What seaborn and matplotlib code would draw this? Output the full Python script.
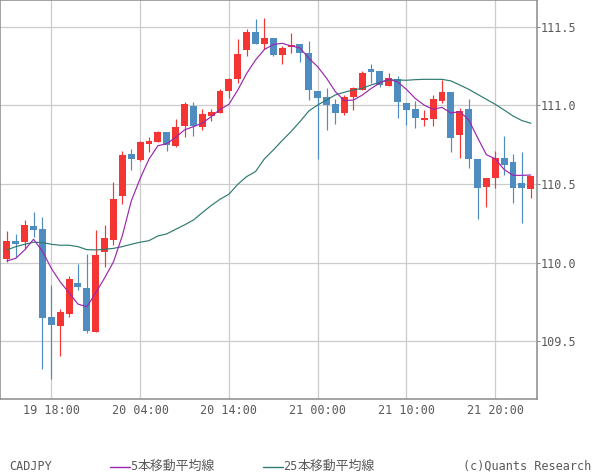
import numpy as np
import pandas as pd
import matplotlib
matplotlib.use("Agg")
import matplotlib.pyplot as plt
from matplotlib.lines import Line2D
import seaborn as sns

# ---------------- data ----------------
opens = [110.022, 110.140, 110.134, 110.233, 110.214, 109.655, 109.598, 109.674, 109.871, 109.840,
         109.560, 110.068, 110.144, 110.424, 110.691, 110.653, 110.754, 110.767, 110.831, 110.742,
         110.869, 110.996, 110.862, 110.932, 110.951, 111.091, 111.167, 111.352, 111.466, 111.390,
         111.428, 111.320, 111.371, 111.390, 111.332, 111.091, 111.053, 111.008, 110.951, 111.053,
         111.097, 111.231, 111.218, 111.123, 111.167, 111.015, 110.977, 110.907, 110.913, 111.028,
         111.085, 110.812, 110.977, 110.659, 110.481, 110.538, 110.665, 110.640, 110.507, 110.468]
highs = [110.204, 110.183, 110.271, 110.322, 110.291, 109.859, 109.706, 109.916, 109.992, 110.055,
         110.208, 110.240, 110.513, 110.710, 110.723, 110.771, 110.799, 110.837, 110.831, 110.913,
         111.021, 111.021, 110.977, 110.977, 111.104, 111.172, 111.421, 111.485, 111.548, 111.555,
         111.428, 111.377, 111.460, 111.390, 111.409, 111.091, 111.110, 111.040, 111.066, 111.116,
         111.218, 111.263, 111.218, 111.205, 111.186, 111.015, 111.028, 110.970, 111.066, 111.161,
         111.085, 110.983, 111.040, 110.659, 110.538, 110.710, 110.805, 110.691, 110.704, 110.551]
lows = [110.007, 110.034, 110.085, 110.166, 109.325, 109.261, 109.407, 109.657, 109.827, 109.556,
        109.560, 109.973, 110.113, 110.373, 110.589, 110.646, 110.704, 110.767, 110.710, 110.735,
        110.799, 110.805, 110.843, 110.900, 110.951, 111.047, 111.142, 111.313, 111.390, 111.358,
        111.313, 111.263, 111.332, 111.275, 111.034, 110.659, 110.843, 110.881, 110.939, 110.970,
        111.097, 111.142, 111.116, 111.123, 110.920, 110.875, 110.856, 110.869, 110.869, 111.015,
        110.704, 110.665, 110.602, 110.278, 110.354, 110.475, 110.557, 110.380, 110.252, 110.411]
closes = [110.140, 110.119, 110.240, 110.208, 109.651, 109.604, 109.687, 109.897, 109.846, 109.566,
          110.049, 110.157, 110.405, 110.684, 110.659, 110.767, 110.773, 110.831, 110.748, 110.862,
          111.008, 110.869, 110.945, 110.958, 111.091, 111.167, 111.326, 111.466, 111.390, 111.428,
          111.320, 111.364, 111.383, 111.332, 111.097, 111.047, 111.002, 110.951, 111.053, 111.110,
          111.205, 111.212, 111.129, 111.174, 111.021, 110.970, 110.920, 110.920, 111.040, 111.085,
          110.792, 110.964, 110.659, 110.475, 110.538, 110.665, 110.621, 110.475, 110.475, 110.551]
ma5 = [110.011, 110.028, 110.081, 110.149, 110.072, 109.964, 109.878, 109.809, 109.737, 109.720,
       109.809, 109.903, 110.005, 110.172, 110.391, 110.534, 110.658, 110.743, 110.756, 110.796,
       110.844, 110.864, 110.886, 110.928, 110.974, 111.006, 111.097, 111.202, 111.288, 111.355,
       111.386, 111.394, 111.377, 111.365, 111.299, 111.245, 111.172, 111.086, 111.030, 111.033,
       111.064, 111.106, 111.142, 111.166, 111.148, 111.101, 111.043, 111.001, 110.974, 110.987,
       110.951, 110.960, 110.908, 110.795, 110.686, 110.660, 110.592, 110.555, 110.555, 110.557]
ma25 = [110.081, 110.102, 110.117, 110.130, 110.128, 110.117, 110.111, 110.111, 110.102, 110.083,
        110.081, 110.085, 110.091, 110.102, 110.117, 110.130, 110.140, 110.170, 110.183, 110.212,
        110.240, 110.271, 110.318, 110.363, 110.403, 110.435, 110.498, 110.547, 110.579, 110.660,
        110.716, 110.776, 110.833, 110.896, 110.964, 111.002, 111.034, 111.066, 111.083, 111.097,
        111.108, 111.129, 111.146, 111.161, 111.161, 111.159, 111.163, 111.165, 111.165, 111.165,
        111.155, 111.129, 111.102, 111.070, 111.038, 111.006, 110.970, 110.932, 110.903, 110.886]
y_ticks = [109.5, 110.0, 110.5, 111.0, 111.5]
x_tick_labels = ["19 18:00", "20 04:00", "20 14:00", "21 00:00", "21 10:00", "21 20:00"]
symbol = "CADJPY"
ma_labels = ["5", "本移動平均線", "25", "本移動平均線"]
credit = "(c)Quants Research"

# ---------------- styling ----------------
sns.set_theme(style="white")
plt.rcParams["font.family"] = ["DejaVu Sans Mono", "Noto Sans CJK JP"]

UP = "#F53434"
DOWN = "#4F8CBF"
MA5_C = "#9B27AF"
MA25_C = "#2E7A70"
GRID = "#CCCCCC"
FRAME = "#8A8A8A"
TXT = "#5A5A5A"

W, H = 600, 475
fig = plt.figure(figsize=(6, 4.75), dpi=100)
fig.patch.set_facecolor("white")
ax = fig.add_axes([0.0, (H - 399) / H, 537 / W, 399 / H])
ax.set_facecolor("white")

df = pd.DataFrame({"o": opens, "h": highs, "l": lows, "c": closes, "ma5": ma5, "ma25": ma25})
df["i"] = np.arange(len(df))
times = pd.date_range("2000-01-19 13:00", periods=len(df), freq="h")

# grid
tick_idx = [i for i, t in enumerate(times) if t.strftime("%d %H:%M") in x_tick_labels]
for yv in y_ticks:
    ax.axhline(yv, color=GRID, lw=0.9, zorder=0)
for xv in tick_idx:
    ax.axvline(xv, color=GRID, lw=0.9, zorder=0)

# candles
up = df["c"] >= df["o"]
colors = np.where(up, UP, DOWN)
ax.vlines(df["i"], df["l"], df["h"], colors=colors, lw=0.85, zorder=2)
bottoms = np.minimum(df["o"], df["c"])
heights = np.maximum(np.abs(df["c"] - df["o"]), 0.004)
ax.bar(df["i"], heights, bottom=bottoms, width=0.78, color=colors, linewidth=0, zorder=3)

# moving averages
sns.lineplot(data=df, x="i", y="ma25", color=MA25_C, lw=0.85, ax=ax, zorder=4)
sns.lineplot(data=df, x="i", y="ma5", color=MA5_C, lw=0.85, ax=ax, zorder=5)

ax.set_xlim(-0.78, 59.7)
ax.set_ylim(109.134, 111.669)
ax.set_xlabel("")
ax.set_ylabel("")

ax.yaxis.tick_right()
ax.set_yticks(y_ticks)
ax.set_yticklabels([f"{v:.1f}" for v in y_ticks])
ax.tick_params(axis="y", which="both", right=True, left=False, length=2, width=0.8,
               color=FRAME, pad=0.5, labelsize=8.5, labelcolor=TXT)
ax.set_xticks(tick_idx)
ax.set_xticklabels([times[i].strftime("%d %H:%M") for i in tick_idx])
ax.tick_params(axis="x", which="both", bottom=True, length=0, pad=3.5,
               labelsize=8.5, labelcolor=TXT)

for s in ax.spines.values():
    s.set_visible(True)
    s.set_color(FRAME)
    s.set_linewidth(1.1)

# footer legend
def fx(px):
    return px / W

yl = (H - 466.5) / H
fig.text(fx(9.5), yl, symbol, ha="left", va="center", fontsize=8.5, color=TXT,
         family="DejaVu Sans Mono")
fig.add_artist(Line2D([fx(110), fx(130)], [yl, yl], color=MA5_C, lw=1.0,
                      transform=fig.transFigure))
fig.text(fx(130), yl, ma_labels[0], ha="left", va="center", fontsize=8.5, color=TXT,
         family="DejaVu Sans Mono")
fig.text(fx(137.5), yl, ma_labels[1], ha="left", va="center", fontsize=9.3, color=TXT,
         family="Noto Sans CJK JP")
fig.add_artist(Line2D([fx(263), fx(283)], [yl, yl], color=MA25_C, lw=1.0,
                      transform=fig.transFigure))
fig.text(fx(283), yl, ma_labels[2], ha="left", va="center", fontsize=8.5, color=TXT,
         family="DejaVu Sans Mono")
fig.text(fx(297.5), yl, ma_labels[3], ha="left", va="center", fontsize=9.3, color=TXT,
         family="Noto Sans CJK JP")
fig.text(fx(591), yl, credit, ha="right", va="center", fontsize=8.5, color=TXT,
         family="DejaVu Sans Mono")

fig.savefig("out.png", dpi=100, facecolor="white")
